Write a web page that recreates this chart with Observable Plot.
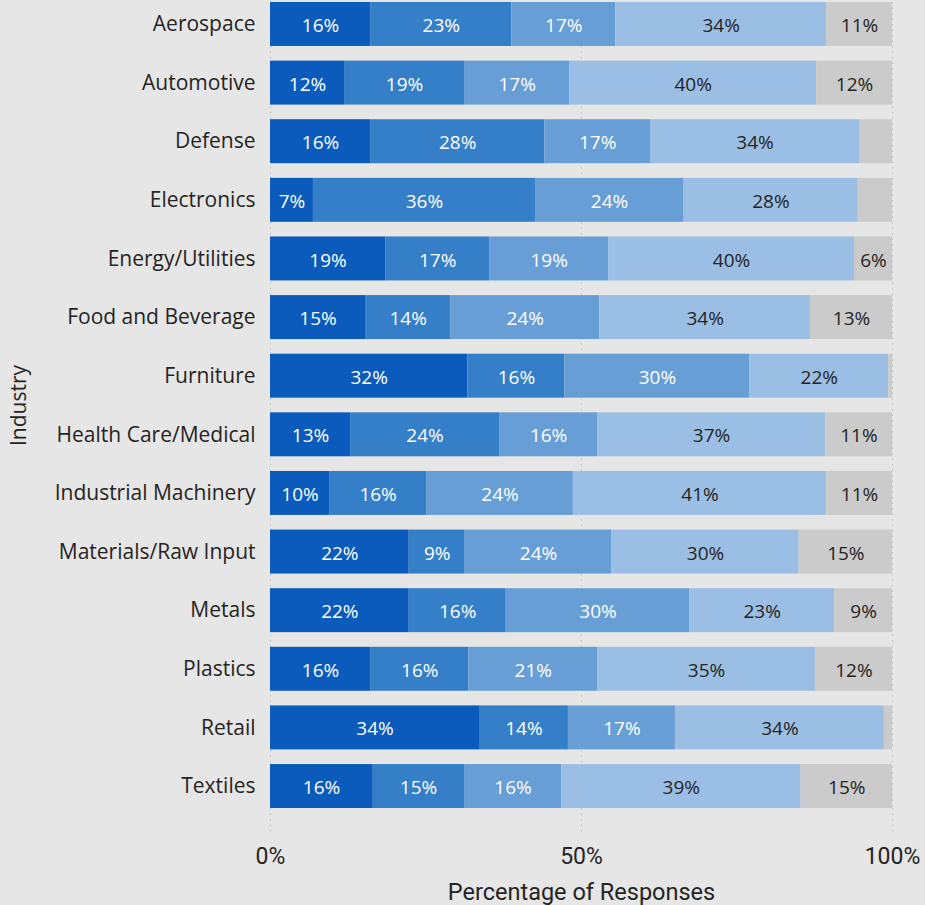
<!DOCTYPE html>
<html>
<head>
<meta charset="utf-8">
<script src="https://cdn.jsdelivr.net/npm/d3@7"></script>
<script src="https://cdn.jsdelivr.net/npm/@observablehq/plot@0.6"></script>
<style>
  html, body { margin: 0; padding: 0; background: #e6e6e6; }
  #chart svg { display: block; }
</style>
</head>
<body>
<div id="chart"></div>
<script>
const industries = ["Aerospace", "Automotive", "Defense", "Electronics", "Energy/Utilities",
  "Food and Beverage", "Furniture", "Health Care/Medical", "Industrial Machinery",
  "Materials/Raw Input", "Metals", "Plastics", "Retail", "Textiles"];
const levels = ["Level 1", "Level 2", "Level 3", "Level 4", "Level 5"];
const level1 = [16.1, 11.9, 16.1, 6.9, 18.5, 15.3, 31.7, 12.9, 9.5, 22.3, 22.3, 16.1, 33.6, 16.4];
const level2 = [22.7, 19.3, 28.0, 35.7, 16.7, 13.7, 15.6, 24.0, 15.6, 9.0, 15.6, 15.8, 14.3, 14.8];
const level3 = [16.7, 16.9, 17.0, 23.8, 19.1, 24.0, 29.7, 15.8, 23.6, 23.6, 29.5, 20.7, 17.2, 15.6];
const level4 = [33.9, 39.7, 33.6, 28.1, 39.5, 33.9, 22.3, 36.7, 40.7, 30.1, 23.3, 35.0, 33.6, 38.5];
const level5 = [10.6, 12.2, 5.3, 5.5, 6.1, 13.2, 0.6, 10.8, 10.6, 15.0, 9.3, 12.4, 1.3, 14.7];
const xTicks = [0, 50, 100];
const colors = ["#0a5bbb", "#357ec8", "#689ed6", "#9bbfe4", "#cbcbcb"];
const labelColors = ["#ffffff", "#ffffff", "#ffffff", "#252423", "#252423"];

const series = [level1, level2, level3, level4, level5];
const data = [];
industries.forEach((ind, i) => {
  series.forEach((s, j) => data.push({industry: ind, level: levels[j], idx: j, value: s[i]}));
});

const stackOpts = {x: "value", y: "industry", z: "level", order: null, offset: "normalize"};

const chart = Plot.plot({
  width: 925,
  height: 905,
  marginTop: 2,
  marginBottom: 97,
  marginLeft: 270,
  marginRight: 33,
  style: {background: "#e6e6e6", fontFamily: "'Open Sans', sans-serif"},
  x: {domain: [0, 1], label: null},
  y: {domain: industries, paddingInner: 0.25, paddingOuter: 0, round: false, label: null},
  color: {domain: levels, range: colors},
  marks: [
    Plot.ruleX(xTicks.map(d => d / 100), {stroke: "#bdbdbd", strokeDasharray: "1.5,4"}),
    Plot.barX(data, Plot.stackX({...stackOpts, fill: "level"})),
    Plot.text(data, Plot.stackX({...stackOpts,
      text: d => d.value >= 6 ? Math.round(d.value) + "%" : "",
      fill: d => labelColors[d.idx], fontSize: 19, dy: 1.5})),
    Plot.axisY({tickSize: 0, tickPadding: 15, fontSize: 21, fill: "#252423",
      label: "Industry", labelAnchor: "center", labelOffset: 259}),
    Plot.axisX({ticks: xTicks.map(d => d / 100), tickFormat: d => Math.round(d * 100) + "%",
      tickSize: 25, tickPadding: 14, stroke: "#bdbdbd", strokeDasharray: "1.5,4",
      fontSize: 23, fill: "#252423", fontFamily: "Roboto, sans-serif", label: null}),
    Plot.text(["Percentage of Responses"], {frameAnchor: "bottom", dy: 91, lineAnchor: "bottom",
      text: d => d, fontSize: 23.5, fill: "#252423", fontFamily: "Roboto, sans-serif"})
  ]
});
document.getElementById("chart").appendChild(chart);
</script>
</body>
</html>
